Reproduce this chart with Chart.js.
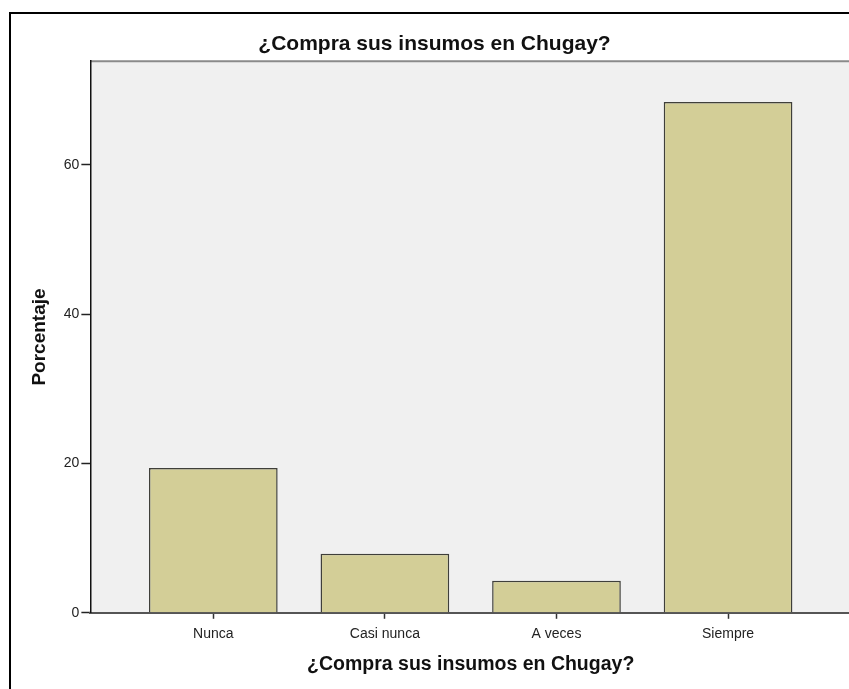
<!DOCTYPE html>
<html>
<head>
<meta charset="utf-8">
<script src="https://cdn.jsdelivr.net/npm/chart.js@4.4.1/dist/chart.umd.min.js"></script>
<style>
  html, body { margin: 0; padding: 0; background: #fff; overflow: hidden; }
  body { width: 849px; height: 689px; position: relative; }
  #frame { position: absolute; left: 9px; top: 12px; width: 900px; height: 720px; border: 2px solid #000; box-sizing: border-box; }
  #wrap { position: absolute; left: 0; top: 0; width: 876px; height: 689px; }
</style>
</head>
<body>
<div id="frame"></div>
<div id="wrap"><canvas id="myChartCanvas" width="876" height="689"></canvas></div>
<script>
const categories = ['Nunca', 'Casi nunca', 'A veces', 'Siempre'];
const porcentajes = [19.4, 7.9, 4.3, 68.4];
const yTicks = [0, 20, 40, 60];

const plotBg = {
  id: 'plotBg',
  beforeDraw(chart) {
    const { ctx, chartArea: a } = chart;
    ctx.save();
    ctx.fillStyle = '#f0f0f0';
    ctx.fillRect(a.left, a.top, a.right - a.left, a.bottom - a.top);
    ctx.strokeStyle = '#8a8a8a';
    ctx.lineWidth = 2;
    ctx.beginPath();
    ctx.moveTo(a.left, a.top);
    ctx.lineTo(a.right + 5, a.top);
    ctx.stroke();
    ctx.restore();
  }
};

const data = {
  datasets: [{
    label: 'Porcentaje',
    data: categories.map((c, i) => ({ x: i, y: porcentajes[i] })),
    backgroundColor: '#d3ce97',
    borderColor: '#3f3f3a',
    borderWidth: 1.5,
    categoryPercentage: 1,
    barPercentage: 0.75
  }]
};

const config = {
  type: 'bar',
  data: data,
  options: {
    responsive: false,
    animation: false,
    layout: { padding: { top: 32, left: 18, right: 25, bottom: 8 } },
    plugins: {
      legend: { display: false },
      tooltip: { enabled: false },
      title: {
        display: true,
        text: '¿Compra sus insumos en Chugay?',
        color: '#111',
        font: { family: 'Liberation Sans', size: 21, weight: 'bold' },
        padding: { top: 0, bottom: 4 }
      }
    },
    scales: {
      x: {
        type: 'linear',
        offset: false,
        min: -0.7165,
        max: 3.7165,
        afterBuildTicks: (s) => { s.ticks = categories.map((c, i) => ({ value: i })); },
        ticks: {
          callback: (v) => categories[v],
          color: '#222',
          padding: 7,
          maxRotation: 0,
          font: { family: 'Liberation Sans', size: 14 }
        },
        grid: { offset: false, drawOnChartArea: false, drawTicks: true, tickLength: 6, color: '#333', tickWidth: 1.5 },
        border: { color: '#555', width: 2 },
        title: {
          display: true,
          text: '¿Compra sus insumos en Chugay?',
          color: '#111',
          font: { family: 'Liberation Sans', size: 19.5, weight: 'bold' },
          padding: { top: 3, bottom: 5 }
        }
      },
      y: {
        min: 0,
        max: 73.85,
        afterBuildTicks: (s) => { s.ticks = yTicks.map(v => ({ value: v })); },
        ticks: {
          color: '#222',
          padding: 2,
          font: { family: 'Liberation Sans', size: 14 }
        },
        grid: { drawOnChartArea: false, drawTicks: true, tickLength: 9, color: '#222', tickWidth: 1.5 },
        border: { color: '#111', width: 1.5 },
        title: {
          display: true,
          text: 'Porcentaje',
          color: '#111',
          font: { family: 'Liberation Sans', size: 19, weight: 'bold' },
          padding: { top: 10, bottom: 11 }
        }
      }
    }
  },
  plugins: [plotBg]
};

const canvasEl = document.getElementById('myChartCanvas');
const canvasChart = new Chart(canvasEl, config);
</script>
</body>
</html>
